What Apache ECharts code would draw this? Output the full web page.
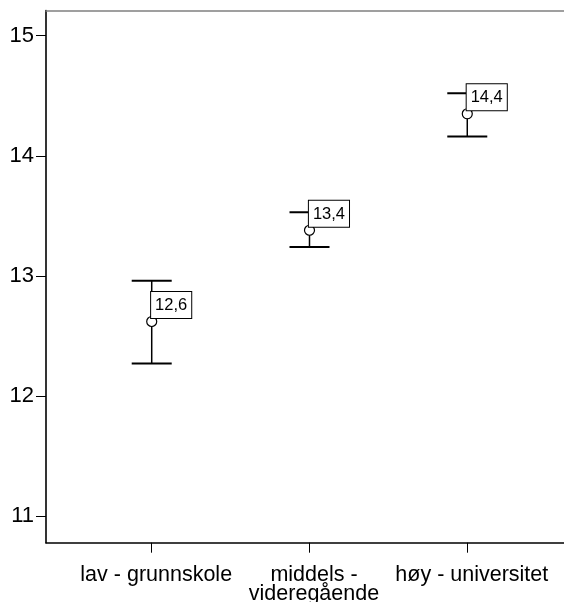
<!DOCTYPE html>
<html>
<head>
<meta charset="utf-8">
<script src="https://cdn.jsdelivr.net/npm/echarts@6/dist/echarts.min.js"></script>
<style>
html,body{margin:0;padding:0;background:#fff;}
#chart{width:564px;height:602px;}
</style>
</head>
<body>
<div id="chart"></div>
<script>
const categories = ['lav - grunnskole', 'middels -\nvideregående', 'høy - universitet'];
const xPositions = [1, 2, 3];
const means = [12.62, 13.38, 14.35];
const upper = [12.96, 13.53, 14.52];
const lower = [12.27, 13.24, 14.16];
const meanLabels = ['12,6', '13,4', '14,4'];
const yTicks = [11, 12, 13, 14, 15];

const FONT = "'Liberation Sans', Arial, sans-serif";

const errData = xPositions.map((x, i) => [x, lower[i], upper[i]]);
const meanData = xPositions.map((x, i) => [x, means[i], meanLabels[i]]);

const chart = echarts.init(document.getElementById('chart'), null, {renderer: 'canvas'});
chart.setOption({
  backgroundColor: '#ffffff',
  animation: false,
  grid: {left: 46, right: 0, top: 10.5, bottom: 59.3, containLabel: false, outerBoundsMode: 'none'},
  xAxis: [{
    type: 'value',
    min: 0.33,
    max: 3.613,
    splitLine: {show: false},
    axisLine: {show: true, onZero: false, lineStyle: {color: '#000', width: 1.6}},
    axisTick: {show: true, length: 10, customValues: xPositions, lineStyle: {color: '#000', width: 1}},
    axisLabel: {
      show: true, customValues: xPositions, margin: 23,
      color: '#000', fontSize: 21.5, fontFamily: FONT, lineHeight: 19,
      padding: [0, 0, 0, 9],
      hideOverlap: false,
      formatter: v => categories[Math.round(v) - 1] || ''
    }
  }, {
    type: 'value',
    position: 'top',
    min: 0.33,
    max: 3.613,
    splitLine: {show: false},
    axisLine: {show: true, onZero: false, lineStyle: {color: '#808080', width: 1.5}},
    axisTick: {show: false},
    axisLabel: {show: false}
  }],
  yAxis: {
    type: 'value',
    min: 10.778,
    max: 15.21,
    splitLine: {show: false},
    axisLine: {show: true, onZero: false, lineStyle: {color: '#000', width: 1.6}},
    axisTick: {show: true, length: 10, customValues: yTicks, lineStyle: {color: '#000', width: 1}},
    axisLabel: {
      show: true, customValues: yTicks, margin: 12,
      color: '#000', fontSize: 22, fontFamily: FONT,
      padding: [8, 0, 0, 0],
      formatter: v => String(v)
    }
  },
  series: [{
    type: 'custom',
    z: 1,
    zlevel: 0,
    data: errData,
    renderItem: function (params, api) {
      const x = api.value(0);
      const lo = api.coord([x, api.value(1)]);
      const hi = api.coord([x, api.value(2)]);
      const hw = 20;
      return {
        type: 'group',
        children: [
          {type: 'line', shape: {x1: lo[0], y1: lo[1], x2: hi[0], y2: hi[1]}, style: {stroke: '#000', lineWidth: 1.5}},
          {type: 'line', shape: {x1: hi[0] - hw, y1: hi[1], x2: hi[0] + hw, y2: hi[1]}, style: {stroke: '#000', lineWidth: 2}},
          {type: 'line', shape: {x1: lo[0] - hw, y1: lo[1], x2: lo[0] + hw, y2: lo[1]}, style: {stroke: '#000', lineWidth: 2}}
        ]
      };
    }
  }, {
    type: 'scatter',
    z: 3,
    zlevel: 1,
    data: meanData,
    symbol: 'circle',
    symbolSize: 10,
    itemStyle: {color: '#fff', borderColor: '#000', borderWidth: 1.2, opacity: 1},
    emphasis: {disabled: true},
    label: {
      show: true,
      position: [5, 2],
      align: 'left',
      verticalAlign: 'bottom',
      formatter: p => p.data[2],
      color: '#000',
      opacity: 1,
      fontSize: 16.5,
      fontFamily: FONT,
      backgroundColor: '#fff',
      borderColor: '#000',
      borderWidth: 1,
      padding: [5, 4, 4, 4]
    }
  }]
});
</script>
</body>
</html>
